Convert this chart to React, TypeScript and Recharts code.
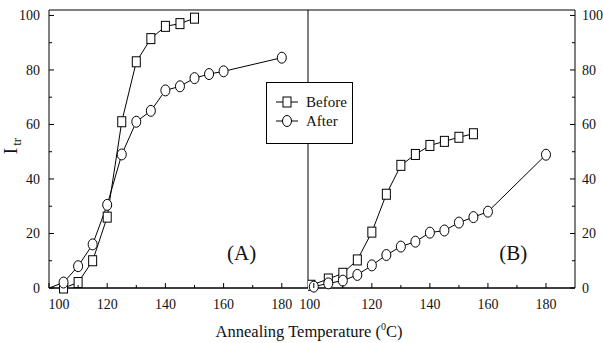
import { LineChart, Line, XAxis, YAxis, ReferenceLine, ReferenceDot, Legend } from 'recharts';

// panel (A)
const tempBeforeA = [105, 110, 115, 120, 125, 130, 135, 140, 145, 150];
const itrBeforeA = [0, 2, 10, 26, 61, 83, 91.5, 96, 97, 99];
const tempAfterA = [100, 105, 110, 115, 120, 125, 130, 135, 140, 145, 150, 155, 160, 180];
const itrAfterA = [0, 2, 8, 16, 30.5, 49, 61, 65, 72.5, 74, 77, 78.5, 79.5, 84.5];

// panel (B)
const tempBeforeB = [99, 105, 110, 115, 120, 125, 130, 135, 140, 145, 150, 155];
const itrBeforeB = [1, 3.3, 5.4, 10.3, 20.5, 34.4, 45, 49, 52.3, 53.8, 55.3, 56.6];
const tempAfterB = [100, 105, 110, 115, 120, 125, 130, 135, 140, 145, 150, 155, 160, 180];
const itrAfterB = [0.5, 1.7, 2.7, 4.8, 8.3, 12.1, 15.2, 17, 20.3, 21.1, 24, 26, 28, 48.9];

const yTicks = [0, 10, 20, 30, 40, 50, 60, 70, 80, 90, 100];
const xTicksA = [100, 110, 120, 130, 140, 150, 160, 170, 180];
const xTicksB = [100, 110, 120, 130, 140, 150, 160, 170, 180];
const seriesNames = ['Before', 'After'];

const toPoints = (t: number[], v: number[]) => t.map((x, i) => ({ t: x, v: v[i] }));
const beforeA = toPoints(tempBeforeA, itrBeforeA);
const afterA = toPoints(tempAfterA, itrAfterA);
const beforeB = toPoints(tempBeforeB, itrBeforeB);
const afterB = toPoints(tempAfterB, itrAfterB);

const FONT = "'Liberation Serif', 'DejaVu Serif', serif";
const INK = '#111';
const txt = (size: number) => ({ fontFamily: FONT, fontSize: size, fill: INK });

function LeftTick({ x, y, payload }: any) {
  const major = payload.value % 20 === 0;
  return (
    <g>
      <line x1={x} x2={x + (major ? 5 : 3)} y1={y} y2={y} stroke="#000" />
      {major && (
        <text x={x - 9} y={y + 5} textAnchor="end" style={txt(14)}>
          {payload.value}
        </text>
      )}
    </g>
  );
}

function RightTick({ x, y, payload }: any) {
  const major = payload.value % 20 === 0;
  return (
    <g>
      <line x1={x} x2={x - (major ? 5 : 3)} y1={y} y2={y} stroke="#000" />
      {major && (
        <text x={x + 7} y={y + 5} textAnchor="start" style={txt(14)}>
          {payload.value}
        </text>
      )}
    </g>
  );
}

const makeXTick = (firstShift: number) => ({ x, y, payload }: any) => {
  const major = payload.value % 20 === 0;
  const dx = payload.value === 100 ? firstShift : 0;
  return (
    <g>
      <line x1={x} x2={x} y1={y} y2={y - (major ? 5 : 3)} stroke="#000" />
      {major && (
        <text x={x + dx} y={y + 21} textAnchor="middle" style={txt(14)}>
          {payload.value}
        </text>
      )}
    </g>
  );
};

const SquareDot = (p: any) => (
  <rect key={p.index} x={p.cx - 4} y={p.cy - 5} width={8} height={10} fill="#fff" stroke="#000" />
);
const CircleDot = (p: any) => (
  <ellipse key={p.index} cx={p.cx} cy={p.cy} rx={4.5} ry={5.5} fill="#fff" stroke="#000" />
);
// first After point in (A) sits on the axis, no marker drawn there
const CircleDotA = (p: any) => (p.index === 0 ? <g key={p.index} /> : CircleDot(p));

const YTitle = () => (
  <text x={17} y={146} transform="rotate(-90, 17, 146)" textAnchor="middle" style={txt(19)}>
    I<tspan dx={2} dy={4} style={{ fontSize: 13 }}>tr</tspan>
  </text>
);

const XTitle = () => (
  <text x={309} y={337} textAnchor="middle" style={txt(16.5)}>
    Annealing Temperature (<tspan dy={-7} style={{ fontSize: 10 }}>0</tspan>
    <tspan dy={7}>C)</tspan>
  </text>
);

const panelLabel = (s: string) => ({ viewBox }: any) => (
  <text x={viewBox.cx ?? viewBox.x} y={(viewBox.cy ?? viewBox.y) + 7} textAnchor="middle" style={txt(21)}>
    {s}
  </text>
);

function LegendBox({ payload }: any) {
  const items = seriesNames.map((n, i) => {
    const hit = (payload || []).find((e: any) => e.value === n);
    return { value: n, type: hit ? hit.type : i === 0 ? 'square' : 'circle' };
  });
  return (
    <svg width={87} height={62} style={{ display: 'block' }}>
      <rect x={0.5} y={0.5} width={86} height={61} fill="#fff" stroke="#000" />
      {items.map((e: any, i: number) => {
        const cy = 20 + i * 19;
        return (
          <g key={i}>
            <line x1={10} x2={32} y1={cy} y2={cy} stroke="#000" />
            {e.type === 'square' ? (
              <rect x={17} y={cy - 5} width={8} height={10} fill="#fff" stroke="#000" />
            ) : (
              <ellipse cx={21} cy={cy} rx={4.5} ry={5.5} fill="#fff" stroke="#000" />
            )}
            <text x={40} y={cy + 5} style={txt(15)}>
              {e.value}
            </text>
          </g>
        );
      })}
    </svg>
  );
}

export default function App() {
  return (
    <div style={{ position: 'absolute', left: 0, top: 0, width: 603, height: 343, background: '#fff', fontFamily: FONT }}>
      <div style={{ position: 'absolute', left: 0, top: 0 }}>
        <LineChart width={603} height={343} margin={{ top: 10, right: 0, bottom: 25, left: 308 }}>
          <XAxis
            type="number"
            dataKey="t"
            domain={[98, 190]}
            ticks={xTicksB}
            interval={0}
            allowDataOverflow
            height={30}
            tickSize={0}
            tickMargin={0}
            tickLine={false}
            axisLine={{ stroke: '#000', strokeWidth: 1.5 }}
            tick={makeXTick(-4)}
          />
          <YAxis
            orientation="right"
            domain={[0, 102]}
            ticks={yTicks}
            interval={0}
            width={28}
            tickSize={0}
            tickMargin={0}
            tickLine={false}
            axisLine={{ stroke: '#000' }}
            tick={RightTick}
          />
          <ReferenceLine y={102} stroke="#000" />
          <ReferenceLine x={98} stroke="#000" />
          <ReferenceDot x={168.7} y={13} r={0} fill="none" stroke="none" label={panelLabel('(B)')} />
          <Line data={beforeB} dataKey="v" name="Before" stroke="#000" strokeWidth={1} dot={SquareDot} isAnimationActive={false} />
          <Line data={afterB} dataKey="v" name="After" stroke="#000" strokeWidth={1} dot={CircleDot} isAnimationActive={false} />
        </LineChart>
      </div>
      <div style={{ position: 'absolute', left: 0, top: 0 }}>
        <LineChart width={603} height={343} margin={{ top: 10, right: 295, bottom: 25, left: 0 }}>
          <XAxis
            type="number"
            dataKey="t"
            domain={[100, 189]}
            ticks={xTicksA}
            interval={0}
            allowDataOverflow
            height={30}
            tickSize={0}
            tickMargin={0}
            tickLine={false}
            axisLine={{ stroke: '#000', strokeWidth: 1.5 }}
            tick={makeXTick(10)}
            label={XTitle}
          />
          <YAxis
            domain={[0, 102]}
            ticks={yTicks}
            interval={0}
            width={49}
            tickSize={0}
            tickMargin={0}
            tickLine={false}
            axisLine={{ stroke: '#000' }}
            tick={LeftTick}
            label={YTitle}
          />
          <ReferenceLine y={102} stroke="#000" />
          <ReferenceDot x={166.2} y={13} r={0} fill="none" stroke="none" label={panelLabel('(A)')} />
          <Line data={beforeA} dataKey="v" name="Before" legendType="square" stroke="#000" strokeWidth={1} dot={SquareDot} isAnimationActive={false} />
          <Line data={afterA} dataKey="v" name="After" legendType="circle" stroke="#000" strokeWidth={1} dot={CircleDotA} isAnimationActive={false} />
          <Legend
            layout="horizontal"
            verticalAlign="middle"
            align="center"
            wrapperStyle={{ left: 266, top: 82, width: 87, height: 62, zIndex: 5 }}
            content={LegendBox}
          />
        </LineChart>
      </div>
    </div>
  );
}
